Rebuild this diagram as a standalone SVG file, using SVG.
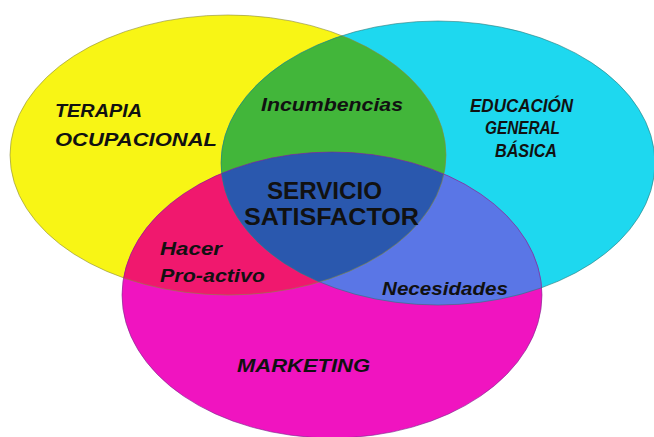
<svg xmlns="http://www.w3.org/2000/svg" width="654" height="437" viewBox="0 0 654 437">
<style>
.lbl{font-family:"Liberation Sans",Arial,sans-serif;font-style:italic;fill:#111}
.pix{font-size:19px;font-weight:bold}
.edu{font-size:19px;font-weight:bold}
.ctr{font-family:"Liberation Sans",Arial,sans-serif;font-weight:bold;font-size:24px;fill:#111}
.edge{fill:none;stroke-width:1}
</style>
<defs>
<clipPath id="cY"><ellipse cx="228" cy="155" rx="218" ry="140"/></clipPath>
<clipPath id="cC"><ellipse cx="438" cy="163" rx="217" ry="142"/></clipPath>
</defs>
<rect width="654" height="437" fill="#ffffff"/>
<g id="terapia-ocupacional">
<ellipse cx="228" cy="155" rx="218" ry="140" fill="#f8f515"/>
</g>
<g id="educacion-general-basica">
<ellipse cx="438" cy="163" rx="217" ry="142" fill="#1ed8ef"/>
</g>
<g id="marketing">
<ellipse cx="332" cy="295" rx="210" ry="143" fill="#f014c0"/>
</g>
<g id="incumbencias">
<ellipse cx="438" cy="163" rx="217" ry="142" fill="#42b63a" clip-path="url(#cY)"/>
</g>
<g id="hacer-pro-activo">
<ellipse cx="332" cy="295" rx="210" ry="143" fill="#f0186e" clip-path="url(#cY)"/>
</g>
<g id="necesidades">
<ellipse cx="332" cy="295" rx="210" ry="143" fill="#5a76e6" clip-path="url(#cC)"/>
</g>
<g id="servicio-satisfactor">
<g clip-path="url(#cY)">
<ellipse cx="332" cy="295" rx="210" ry="143" fill="#2a58ae" clip-path="url(#cC)"/>
</g>
</g>
<g id="edges">
<ellipse class="edge" cx="228" cy="155" rx="218" ry="140" stroke="#8a8a3a" stroke-opacity="0.6"/>
<ellipse class="edge" cx="438" cy="163" rx="217" ry="142" stroke="#2a7a7a" stroke-opacity="0.6"/>
<ellipse class="edge" cx="332" cy="295" rx="210" ry="143" stroke="#7a2a8a" stroke-opacity="0.6"/>
</g>
<g id="labels">
<text class="lbl pix" x="55" y="117" textLength="87" lengthAdjust="spacingAndGlyphs">TERAPIA</text>
<text class="lbl pix" x="55" y="146" textLength="162" lengthAdjust="spacingAndGlyphs">OCUPACIONAL</text>
<text class="lbl pix" x="261" y="111" font-size="17" textLength="142" lengthAdjust="spacingAndGlyphs">Incumbencias</text>
<text class="lbl edu" x="470" y="112" textLength="103" lengthAdjust="spacingAndGlyphs">EDUCACIÓN</text>
<text class="lbl edu" x="485" y="134" textLength="75" lengthAdjust="spacingAndGlyphs">GENERAL</text>
<text class="lbl edu" x="495" y="157" textLength="62" lengthAdjust="spacingAndGlyphs">BÁSICA</text>
<text class="ctr" x="267" y="199" textLength="115" lengthAdjust="spacingAndGlyphs">SERVICIO</text>
<text class="ctr" x="244" y="225" textLength="175" lengthAdjust="spacingAndGlyphs">SATISFACTOR</text>
<text class="lbl pix" x="160" y="255" font-weight="normal" font-size="19" textLength="62" lengthAdjust="spacingAndGlyphs">Hacer</text>
<text class="lbl pix" x="160" y="282" font-weight="normal" font-size="19" textLength="105" lengthAdjust="spacingAndGlyphs">Pro-activo</text>
<text class="lbl pix" x="382" y="295" font-weight="normal" font-size="17" textLength="126" lengthAdjust="spacingAndGlyphs">Necesidades</text>
<text class="lbl pix" x="237" y="372" textLength="133" lengthAdjust="spacingAndGlyphs">MARKETING</text>
</g>
</svg>
